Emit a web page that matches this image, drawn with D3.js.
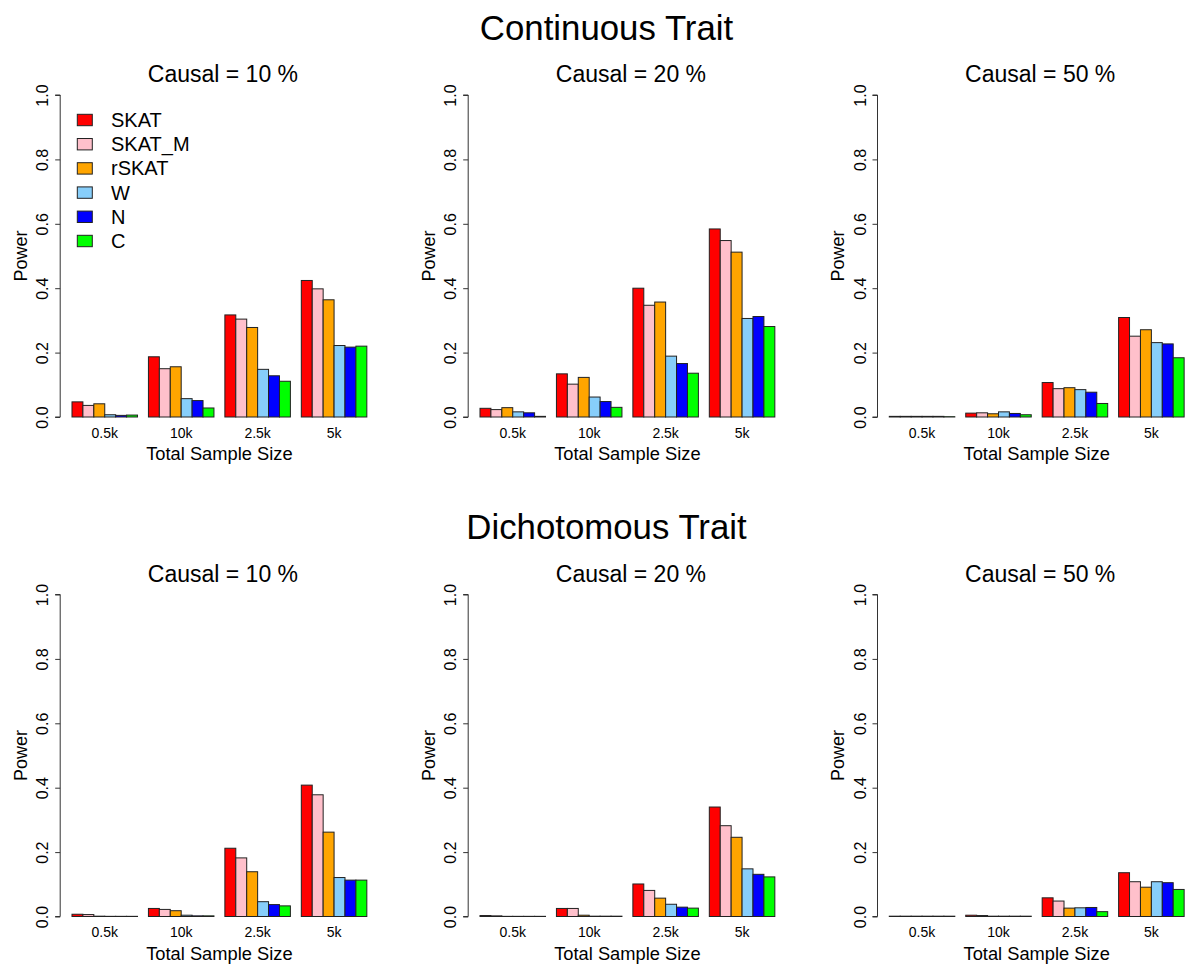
<!DOCTYPE html>
<html><head><meta charset="utf-8">
<script src="https://cdn.jsdelivr.net/npm/d3@7"></script>
<style>body{margin:0;background:#fff}svg{display:block;font-family:"Liberation Sans",Arial,sans-serif}</style>
</head><body><svg id="c" width="1187" height="964"></svg>
<script>
const methods = ["SKAT","SKAT_M","rSKAT","W","N","C"];
const methodColors = ["#FF0000","#FFC0CB","#FFA500","#87CEFA","#0000FF","#00FF00"];
const sampleSizes = ["0.5k","10k","2.5k","5k"];
const traits = ["Continuous Trait","Dichotomous Trait"];
const causalPct = ["10","20","50"];
const yTicks = [0,0.2,0.4,0.6,0.8,1.0];

const cont10 = [
 [0.047,0.036,0.041,0.007,0.005,0.006],
 [0.187,0.150,0.156,0.057,0.051,0.028],
 [0.317,0.304,0.278,0.148,0.128,0.111],
 [0.424,0.398,0.364,0.222,0.217,0.220]];
const cont20 = [
 [0.027,0.023,0.029,0.016,0.013,0.002],
 [0.134,0.102,0.123,0.062,0.048,0.030],
 [0.400,0.347,0.357,0.189,0.166,0.136],
 [0.584,0.548,0.512,0.306,0.312,0.281]];
const cont50 = [
 [0.002,0.002,0.002,0.002,0.002,0.001],
 [0.012,0.013,0.010,0.016,0.011,0.007],
 [0.107,0.088,0.091,0.085,0.077,0.042],
 [0.309,0.251,0.271,0.231,0.227,0.184]];
const dich10 = [
 [0.007,0.006,0.001,0.0005,0.0005,0.0005],
 [0.025,0.022,0.018,0.004,0.002,0.002],
 [0.212,0.182,0.139,0.046,0.037,0.033],
 [0.408,0.378,0.262,0.121,0.113,0.113]];
const dich20 = [
 [0.003,0.002,0.0005,0.0005,0.0005,0.0005],
 [0.025,0.025,0.004,0.001,0.001,0.001],
 [0.101,0.081,0.057,0.038,0.029,0.026],
 [0.340,0.282,0.246,0.148,0.131,0.123]];
const dich50 = [
 [0.001,0.001,0.001,0.001,0.001,0.001],
 [0.004,0.003,0.001,0.001,0.001,0.001],
 [0.058,0.048,0.026,0.027,0.028,0.015],
 [0.136,0.108,0.091,0.108,0.105,0.084]];

const panels = [[cont10,cont20,cont50],[dich10,dich20,dich50]];

const svg = d3.select("#c");
const panelLeft = [60.2, 468.2, 877.5];
const unitPx = 10.92;
const rowOffset = 499.5;
const nM = methods.length;

traits.forEach((trait, r) => {
  const dy = r * rowOffset;
  svg.append("text").attr("x", 606.5).attr("y", 39.5 + dy)
    .attr("text-anchor","middle").attr("font-size", 34.8).attr("fill","#000").text(trait);

  panels[r].forEach((data, p) => {
    const L = panelLeft[p];
    const x = d3.scaleLinear().domain([-0.08, 29.08]).range([L, L + 29.16 * unitPx]);
    const y = d3.scaleLinear().domain([0, 1]).range([417 + dy, 95 + dy]);
    const g = svg.append("g");
    const cx = (x.range()[0] + x.range()[1]) / 2;

    g.append("text").attr("x", cx + 3.5).attr("y", 82 + dy).attr("text-anchor","middle")
      .attr("font-size", 23).text("Causal = " + causalPct[p] + " %");

    // y axis
    const yAxis = d3.axisLeft(y).tickValues(yTicks).tickSize(5).tickFormat(d3.format(".1f"));
    const ax = g.append("g").attr("transform", `translate(${L},0)`).call(yAxis);
    ax.select(".domain").attr("stroke","#333").attr("d", `M-5,${y(1)}H0V${y(0)}H-5`);
    ax.selectAll(".tick line").attr("stroke","#333");
    ax.selectAll(".tick text").attr("font-size", 16).attr("fill","#000")
      .attr("font-family","Liberation Sans, Arial, sans-serif")
      .attr("x", null).attr("dy", null).attr("text-anchor","middle")
      .attr("transform", "translate(-12,0) rotate(-90)");

    g.append("text").attr("transform", `translate(${L - 33.5},${(y(0.5))}) rotate(-90)`)
      .attr("text-anchor","middle").attr("font-size", 18).text("Power");

    // bars
    data.forEach((grp, gi) => {
      grp.forEach((v, mi) => {
        const u = 1 + gi * (nM + 1) + mi;
        g.append("rect").attr("x", x(u)).attr("width", x(u + 1) - x(u))
          .attr("y", y(v)).attr("height", y(0) - y(v))
          .attr("fill", methodColors[mi]).attr("stroke","#222").attr("stroke-width", 1);
      });
      g.append("text").attr("x", x(1 + gi * (nM + 1) + nM / 2)).attr("y", 437.5 + dy)
        .attr("text-anchor","middle").attr("font-size", 14).text(sampleSizes[gi]);
    });

    g.append("text").attr("x", cx).attr("y", 460 + dy).attr("text-anchor","middle")
      .attr("font-size", 18.3).text("Total Sample Size");

    // legend only in first panel
    if (r === 0 && p === 0) {
      methods.forEach((m, i) => {
        const ly = 120 + i * 24.2;
        g.append("rect").attr("x", 77.3).attr("y", ly - 5.7).attr("width", 15).attr("height", 11.4)
          .attr("fill", methodColors[i]).attr("stroke","#222").attr("stroke-width",1);
        g.append("text").attr("x", 111).attr("y", ly + 7).attr("font-size", 20).text(m);
      });
    }
  });
});
</script></body></html>
